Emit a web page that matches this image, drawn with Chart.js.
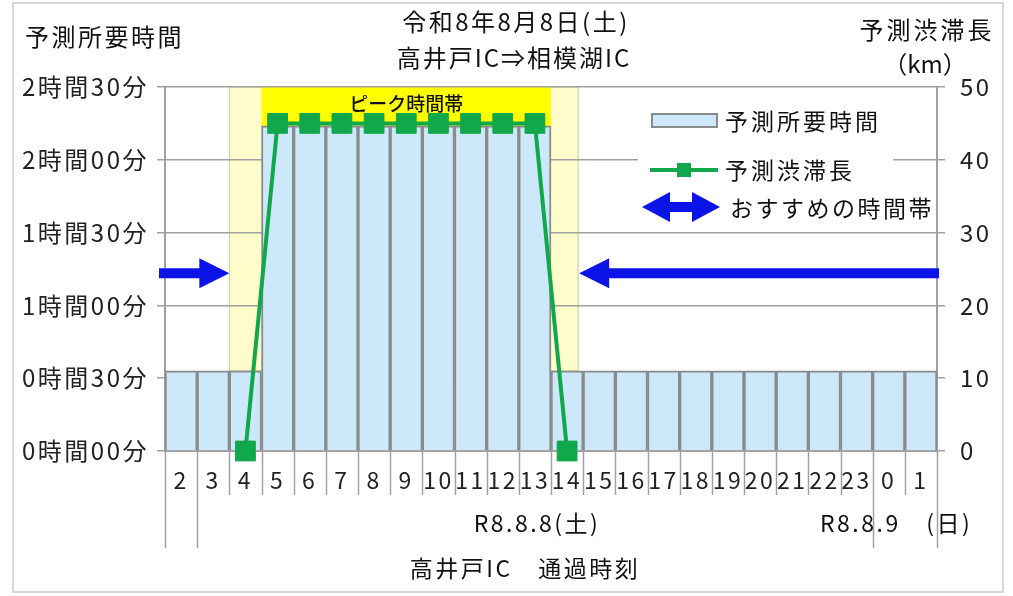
<!DOCTYPE html>
<html>
<head>
<meta charset="utf-8">
<script src="https://cdn.jsdelivr.net/npm/chart.js@4.4.1/dist/chart.umd.min.js"></script>
<style>
  html, body { margin: 0; padding: 0; background: #fff; }
  #myChart { display: block; }
</style>
</head>
<body>
<canvas id="myChart" width="1013" height="596"></canvas>
<script>
// hours passing 高井戸IC, 8/8 02:00 .. 8/9 01:00
const hours = ['2','3','4','5','6','7','8','9','10','11','12','13','14','15','16','17','18','19','20','21','22','23','0','1'];
// predicted travel time (minutes)
const travelMinutes = [33,33,33,134,134,134,134,134,134,134,134,134,33,33,33,33,33,33,33,33,33,33,33,33];
// predicted jam length (km)
const jamKm = [null,null,0,45,45,45,45,45,45,45,45,45,0,null,null,null,null,null,null,null,null,null,null,null];
const timeTicks = ['0時間00分','0時間30分','1時間00分','1時間30分','2時間00分','2時間30分'];
const kmTicks = ['0','10','20','30','40','50'];
const titleLines = ['令和8年8月8日(土)','高井戸IC⇒相模湖IC'];
const dateLabels = ['R8.8.8(土)','R8.8.9　(日)'];
const peakLabel = 'ピーク時間帯';
const legendLabels = ['予測所要時間','予測渋滞長','おすすめの時間帯'];

const FONT = '"Noto Sans CJK JP", "Noto Sans", sans-serif';
const GREEN = '#11a84b';
const BLUE = '#0a14e6';
const GRID = '#a0a0a0';
const BAR_FILL = '#cce8fa';
const BAR_EDGE = '#8a8a8a';
const SPACING = '2.5px';

// left edge of category i (i = length gives the right edge)
function colEdge(x, i) {
  const w = x.getPixelForValue(1) - x.getPixelForValue(0);
  return x.getPixelForValue(i) - w / 2;
}

function arrow(ctx, fromX, tipX, y, headLen, headHalf, shaftHalf) {
  const dir = tipX > fromX ? 1 : -1;
  const baseX = tipX - dir * headLen;
  ctx.beginPath();
  ctx.moveTo(fromX, y - shaftHalf);
  ctx.lineTo(baseX, y - shaftHalf);
  ctx.lineTo(baseX, y - headHalf);
  ctx.lineTo(tipX, y);
  ctx.lineTo(baseX, y + headHalf);
  ctx.lineTo(baseX, y + shaftHalf);
  ctx.lineTo(fromX, y + shaftHalf);
  ctx.closePath();
  ctx.fill();
}

const decor = {
  id: 'decor',
  beforeDraw(chart) {
    const {ctx, chartArea, scales} = chart;
    const x = scales.x, y = scales.y;
    // wider text like the original, also used by the axis labels
    ctx.letterSpacing = SPACING;
    ctx.save();
    // outer frame
    ctx.strokeStyle = '#d8d8d8';
    ctx.lineWidth = 2;
    ctx.strokeRect(13, 3, 990, 589);
    // pale band: cols 4..14
    ctx.fillStyle = '#fffccc';
    const pl = colEdge(x, 2), pr = colEdge(x, 13) - 5;
    const ph = y.getPixelForValue(travelMinutes[2]) - chartArea.top;
    ctx.fillRect(pl, chartArea.top, pr - pl, ph);
    ctx.strokeStyle = '#c8c8a0';
    ctx.lineWidth = 1;
    ctx.strokeRect(pl, chartArea.top, pr - pl, ph);
    // peak band: cols 5..13
    ctx.fillStyle = '#ffff00';
    const bl = colEdge(x, 3), br = colEdge(x, 12);
    ctx.fillRect(bl, chartArea.top, br - bl, y.getPixelForValue(travelMinutes[3]) - chartArea.top);
    ctx.restore();
  },
  beforeDatasetsDraw(chart) {
    const {ctx, chartArea, scales} = chart;
    const x = scales.x;
    ctx.save();
    ctx.letterSpacing = '0px';
    ctx.fillStyle = '#111';
    ctx.font = '500 19px ' + FONT;
    ctx.textAlign = 'center';
    ctx.textBaseline = 'middle';
    ctx.fillText(peakLabel, (colEdge(x, 3) + colEdge(x, 12)) / 2, chartArea.top + 17);
    ctx.restore();
  },
  afterDatasetsDraw(chart) {
    const {ctx, chartArea, scales} = chart;
    const x = scales.x, y2 = scales.y2;
    const ay = y2.getPixelForValue(24.4);
    ctx.save();
    ctx.fillStyle = BLUE;
    arrow(ctx, chartArea.left - 6, colEdge(x, 2), ay, 30, 15, 5);
    arrow(ctx, chartArea.right + 2, colEdge(x, 13) - 4, ay, 30, 15, 5);
    ctx.restore();
  },
  afterDraw(chart) {
    const {ctx, chartArea, scales} = chart;
    const x = scales.x;
    ctx.save();
    // separators below the axis
    ctx.strokeStyle = GRID;
    ctx.lineWidth = 1.5;
    for (let i = 0; i <= hours.length; i++) {
      const px = Math.round(colEdge(x, i)) + 0.5;
      const long = (i === 0 || i === 1 || i === 22 || i === 24);
      ctx.beginPath();
      ctx.moveTo(px, chartArea.bottom);
      ctx.lineTo(px, long ? 548 : 495);
      ctx.stroke();
    }

    // legend
    ctx.fillStyle = '#fff';
    ctx.fillRect(638, 92, 255, 136);
    ctx.fillStyle = BAR_FILL;
    ctx.strokeStyle = BAR_EDGE;
    ctx.lineWidth = 2;
    ctx.fillRect(652, 114, 65, 13);
    ctx.strokeRect(652, 114, 65, 13);
    ctx.strokeStyle = GREEN;
    ctx.lineWidth = 4;
    ctx.beginPath();
    ctx.moveTo(650, 170);
    ctx.lineTo(718, 170);
    ctx.stroke();
    ctx.fillStyle = GREEN;
    ctx.fillRect(677, 163, 14, 14);
    ctx.fillStyle = BLUE;
    const mid = 681;
    arrow(ctx, mid, 642, 207, 28, 15, 5);
    arrow(ctx, mid - 1, 720, 207, 28, 15, 5);

    ctx.letterSpacing = '3px';
    ctx.fillStyle = '#111';
    ctx.font = '23px ' + FONT;
    ctx.textBaseline = 'middle';
    ctx.textAlign = 'left';
    ctx.fillText(legendLabels[0], 725, 121);
    ctx.fillText(legendLabels[1], 725, 170);
    ctx.letterSpacing = '2.5px';
    ctx.fillText(legendLabels[2], 730, 208);

    // titles
    ctx.font = '24px ' + FONT;
    ctx.letterSpacing = '2.5px';
    ctx.fillText('予測所要時間', 25, 37);
    ctx.textAlign = 'center';
    ctx.fillText(titleLines[0], 516, 22);
    ctx.letterSpacing = '2px';
    ctx.fillText(titleLines[1], 514, 58);
    ctx.letterSpacing = '3px';
    ctx.fillText('予測渋滞長', 927, 30);
    ctx.letterSpacing = '0px';
    ctx.fillText('（km）', 925, 64);

    ctx.font = '23px ' + FONT;
    ctx.letterSpacing = '2.5px';
    ctx.fillText(dateLabels[0], 537, 523);
    ctx.textAlign = 'left';
    ctx.fillText(dateLabels[1], 820, 523);
    ctx.textAlign = 'center';
    ctx.fillText('高井戸IC　通過時刻', 525, 568);
    ctx.restore();
  }
};

const config = {
  type: 'bar',
  data: {
    labels: hours,
    datasets: [
      {
        type: 'line',
        label: legendLabels[1],
        data: jamKm,
        yAxisID: 'y2',
        borderColor: GREEN,
        backgroundColor: GREEN,
        borderWidth: 4,
        pointStyle: 'rect',
        pointRadius: 14,
        pointBorderWidth: 1,
        spanGaps: false,
        clip: false,
        order: 0
      },
      {
        type: 'bar',
        label: legendLabels[0],
        data: travelMinutes,
        yAxisID: 'y',
        backgroundColor: BAR_FILL,
        borderColor: BAR_EDGE,
        borderWidth: 2,
        barPercentage: 1,
        categoryPercentage: 1,
        order: 1
      }
    ]
  },
  options: {
    responsive: false,
    animation: false,
    layout: { padding: { top: 87, left: 0, right: 0, bottom: 0 } },
    plugins: { legend: { display: false }, tooltip: { enabled: false } },
    scales: {
      x: {
        offset: true,
        grid: { display: false },
        border: { display: true, color: GRID, width: 2 },
        ticks: { font: { family: FONT, size: 23 }, color: '#222', padding: 7, autoSkip: false, maxRotation: 0 },
        afterFit: s => { s.height = 145; }
      },
      y: {
        position: 'left',
        min: 0, max: 150,
        ticks: { stepSize: 30, callback: (v, i) => timeTicks[i], font: { family: FONT, size: 24 }, color: '#222', padding: 8 },
        grid: { color: GRID, lineWidth: 1.5, tickLength: 8 },
        border: { color: GRID, width: 2 },
        afterFit: s => { s.width = 165; }
      },
      y2: {
        position: 'right',
        min: 0, max: 50,
        ticks: { stepSize: 10, callback: (v, i) => kmTicks[i], font: { family: FONT, size: 24 }, color: '#222', padding: 15 },
        grid: { drawOnChartArea: false, color: GRID, lineWidth: 1.5, tickLength: 8 },
        border: { color: GRID, width: 2 },
        afterFit: s => { s.width = 76; }
      }
    }
  },
  plugins: [decor]
};

const myChart = new Chart(document.getElementById('myChart'), config);
</script>
</body>
</html>
